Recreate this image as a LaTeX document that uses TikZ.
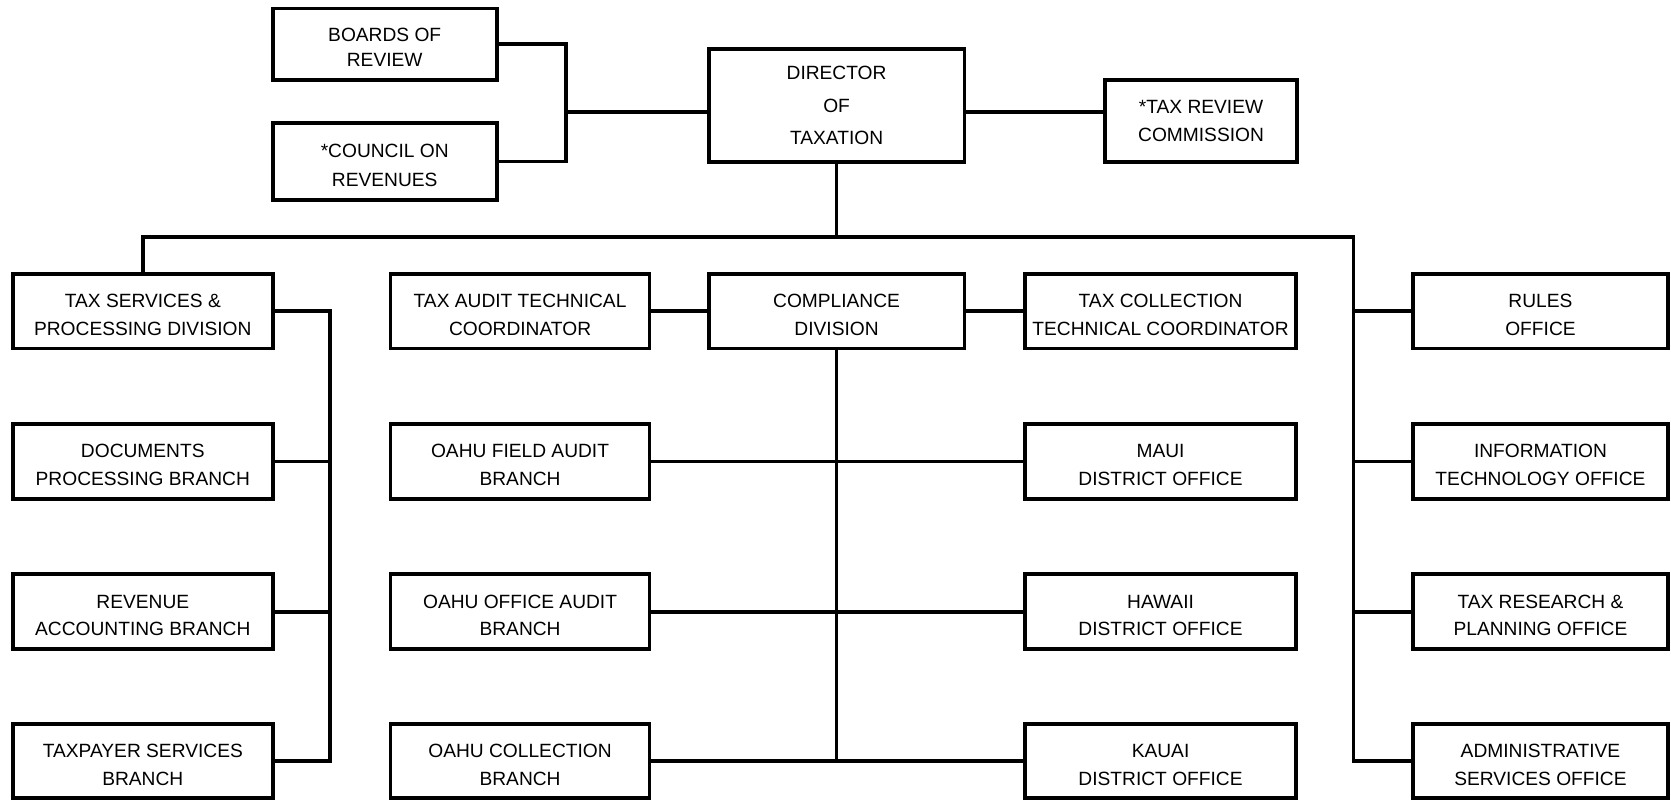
\documentclass[tikz,border=0pt]{standalone}
\usepackage{fontspec}
\setmainfont{Liberation Sans}
\newcommand\orgtxt[2]{\raisebox{-4.5pt}[\height][\depth]{\begin{tabular}{@{}c@{}}#1\\#2\end{tabular}}}
\tikzset{
  orgbox/.style={draw, line width=3.6pt, inner sep=0pt, align=center,
    minimum height=70pt, font=\fontsize{18}{26}\selectfont},
  link/.style={line width=3.6pt}
}
\begin{document}
\begin{tikzpicture}[x=1pt,y=-1pt]
\useasboundingbox (0,0) rectangle (1568,752);
% top
\node[orgbox, minimum width=210pt, minimum height=67pt, font=\fontsize{18}{24}\selectfont] (boards) at (361,41.5) {\orgtxt{BOARDS OF}{REVIEW}};
\node[orgbox, minimum width=210pt, minimum height=72pt, font=\fontsize{18}{27}\selectfont] (council) at (361,151.5) {\orgtxt{*COUNCIL ON}{REVENUES}};
\node[orgbox, minimum width=240pt, minimum height=106pt, font=\fontsize{18}{30.5}\selectfont] (director) at (785,99) {DIRECTOR\\OF\\TAXATION};
\node[orgbox, minimum width=180pt, minimum height=77pt] (taxreview) at (1127,113.5) {*TAX REVIEW\\COMMISSION};
% left column
\node[orgbox, minimum width=244pt] (tsvc) at (134,292) {\orgtxt{TAX SERVICES \&}{PROCESSING DIVISION}};
\node[orgbox, minimum width=244pt] (docs) at (134,433) {\orgtxt{DOCUMENTS}{PROCESSING BRANCH}};
\node[orgbox, minimum width=244pt] (rev) at (134,574) {\orgtxt{REVENUE}{ACCOUNTING BRANCH}};
\node[orgbox, minimum width=244pt] (tpay) at (134,714) {\orgtxt{TAXPAYER SERVICES}{BRANCH}};
% middle left
\node[orgbox, minimum width=243pt] (audit) at (488,292) {\orgtxt{TAX AUDIT TECHNICAL}{COORDINATOR}};
\node[orgbox, minimum width=243pt] (field) at (488,433) {\orgtxt{OAHU FIELD AUDIT}{BRANCH}};
\node[orgbox, minimum width=243pt] (office) at (488,574) {\orgtxt{OAHU OFFICE AUDIT}{BRANCH}};
\node[orgbox, minimum width=243pt] (coll) at (488,714) {\orgtxt{OAHU COLLECTION}{BRANCH}};
% compliance
\node[orgbox, minimum width=240pt] (compliance) at (785,292) {\orgtxt{COMPLIANCE}{DIVISION}};
% middle right
\node[orgbox, minimum width=254pt] (taxcoll) at (1089,292) {\orgtxt{TAX COLLECTION}{TECHNICAL COORDINATOR}};
\node[orgbox, minimum width=254pt] (maui) at (1089,433) {\orgtxt{MAUI}{DISTRICT OFFICE}};
\node[orgbox, minimum width=254pt] (hawaii) at (1089,574) {\orgtxt{HAWAII}{DISTRICT OFFICE}};
\node[orgbox, minimum width=254pt] (kauai) at (1089,714) {\orgtxt{KAUAI}{DISTRICT OFFICE}};
% right column
\node[orgbox, minimum width=240pt] (rules) at (1445.5,292) {\orgtxt{RULES}{OFFICE}};
\node[orgbox, minimum width=240pt] (it) at (1445.5,433) {\orgtxt{INFORMATION}{TECHNOLOGY OFFICE}};
\node[orgbox, minimum width=240pt] (research) at (1445.5,574) {\orgtxt{TAX RESEARCH \&}{PLANNING OFFICE}};
\node[orgbox, minimum width=240pt] (admin) at (1445.5,714) {\orgtxt{ADMINISTRATIVE}{SERVICES OFFICE}};
% coordinates
\coordinate (lb) at (531,105);
\coordinate (busL) at (134,222);
\coordinate (busR) at (1270,222);
\coordinate (lx) at (310,292);
% connectors top
\draw[link] (boards.east) -| (lb) |- (council.east);
\draw[link] (lb) -- (lb -| director.west);
\draw[link] (lb -| director.east) -- (lb -| taxreview.west);
\draw[link] (director.south) -- (director.south |- busL);
\draw[link] (tsvc.north) |- (busR) |- (admin.west);
\draw[link] (busR |- rules.west) -- (rules.west);
\draw[link] (busR |- it.west) -- (it.west);
\draw[link] (busR |- research.west) -- (research.west);
% left bracket
\draw[link] (tsvc.east) -- (lx) |- (tpay.east);
\draw[link] (lx |- docs.east) -- (docs.east);
\draw[link] (lx |- rev.east) -- (rev.east);
% middle
\draw[link] (audit.east) -- (compliance.west);
\draw[link] (compliance.east) -- (taxcoll.west);
\draw[link] (compliance.south) -- (compliance.south |- kauai.west);
\draw[link] (field.east) -- (maui.west);
\draw[link] (office.east) -- (hawaii.west);
\draw[link] (coll.east) -- (kauai.west);
\end{tikzpicture}
\end{document}
